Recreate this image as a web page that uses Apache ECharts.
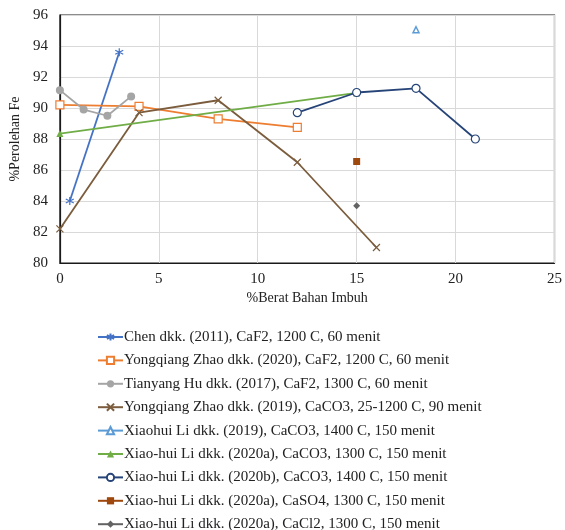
<!DOCTYPE html>
<html>
<head>
<meta charset="utf-8">
<script src="https://cdn.jsdelivr.net/npm/echarts@6/dist/echarts.min.js"></script>
<style>html,body{margin:0;padding:0;background:#fff}#c{width:565px;height:530px}</style>
</head>
<body>
<div id="c"></div>
<script>
const xTicks = [0, 5, 10, 15, 20, 25];
const yTicks = [80, 82, 84, 86, 88, 90, 92, 94, 96];
const seriesNames = [
  "Chen dkk. (2011), CaF2, 1200 C, 60 menit",
  "Yongqiang Zhao dkk. (2020), CaF2, 1200 C, 60 menit",
  "Tianyang Hu dkk. (2017), CaF2, 1300 C, 60 menit",
  "Yongqiang Zhao dkk. (2019), CaCO3, 25-1200 C, 90 menit",
  "Xiaohui Li dkk. (2019), CaCO3, 1400 C, 150 menit",
  "Xiao-hui Li dkk. (2020a), CaCO3, 1300 C, 150 menit",
  "Xiao-hui Li dkk. (2020b), CaCO3, 1400 C, 150 menit",
  "Xiao-hui Li dkk. (2020a), CaSO4, 1300 C, 150 menit",
  "Xiao-hui Li dkk. (2020a), CaCl2, 1300 C, 150 menit"
];
const chen2011 = [[0.5, 84.0], [3, 93.6]];
const zhao2020 = [[0, 90.2], [4, 90.1], [8, 89.3], [12, 88.75]];
const hu2017 = [[0, 91.15], [1.2, 89.9], [2.4, 89.5], [3.6, 90.75]];
const zhao2019 = [[0, 82.2], [4, 89.7], [8, 90.5], [12, 86.5], [16, 81.0]];
const li2019 = [[18, 95.05]];
const li2020aCaCO3 = [[0, 88.35], [15, 90.97]];
const li2020b = [[12, 89.7], [15, 91.0], [18, 91.27], [21, 88.0]];
const li2020aCaSO4 = [[15, 86.55]];
const li2020aCaCl2 = [[15, 83.7]];

const dataSets = [chen2011, zhao2020, hu2017, zhao2019, li2019, li2020aCaCO3, li2020b, li2020aCaSO4, li2020aCaCl2];
const colors = ['#4472C4', '#ED7D31', '#A5A5A5', '#7B5C3C', '#5B9BD5', '#70AD47', '#264478', '#9E480E', '#636363'];
const styles = [
  {symbol: 'path://M0,-5L0,5M-4.3,-2.5L4.3,2.5M-4.3,2.5L4.3,-2.5', size: 8, fill: 'none', bw: 1.2},
  {symbol: 'rect', size: 8, fill: '#fff', bw: 1.2},
  {symbol: 'circle', size: 8, fill: null, bw: 0},
  {symbol: 'path://M-4,-4L4,4M-4,4L4,-4', size: 7, fill: 'none', bw: 1.2},
  {symbol: 'triangle', size: 6, fill: '#fff', bw: 1.5},
  {symbol: 'triangle', size: 7, fill: null, bw: 0},
  {symbol: 'circle', size: 8, fill: '#fff', bw: 1.2},
  {symbol: 'rect', size: 7, fill: null, bw: 0},
  {symbol: 'diamond', size: 7, fill: null, bw: 0}
];
const font = '"Liberation Serif", "Times New Roman", serif';

const series = dataSets.map((d, i) => ({
  name: seriesNames[i],
  type: 'line',
  data: d,
  symbol: styles[i].symbol,
  symbolSize: styles[i].size,
  showSymbol: true,
  lineStyle: {color: colors[i], width: 1.8},
  itemStyle: {
    color: styles[i].fill === null ? colors[i] : (styles[i].fill === 'none' ? 'rgba(0,0,0,0)' : styles[i].fill),
    borderColor: colors[i],
    borderWidth: styles[i].bw
  },
  emphasis: {disabled: true},
  z: 3 + i
}));

const chart = echarts.init(document.getElementById('c'), null, {renderer: 'canvas'});
chart.setOption({
  animation: false,
  backgroundColor: '#fff',
  color: colors,
  grid: {left: 55, right: 8, top: 15, bottom: 267, show: true, borderColor: '#1a1a1a', borderWidth: 1.2, backgroundColor: 'transparent'},
  xAxis: {
    type: 'value', min: xTicks[0], max: xTicks[xTicks.length - 1], interval: 5,
    name: '%Berat Bahan Imbuh', nameLocation: 'middle', nameGap: 28,
    nameTextStyle: {fontFamily: font, fontSize: 14, color: '#222'},
    axisLine: {show: true, lineStyle: {color: '#1a1a1a', width: 1.2}},
    axisTick: {show: false},
    axisLabel: {fontFamily: font, fontSize: 15, color: '#222', margin: 9},
    splitLine: {show: true, lineStyle: {color: '#d9d9d9', width: 1}}
  },
  yAxis: {
    type: 'value', min: yTicks[0], max: yTicks[yTicks.length - 1], interval: 2,
    name: '%Perolehan Fe', nameLocation: 'middle', nameGap: 35, nameRotate: 90,
    nameTextStyle: {fontFamily: font, fontSize: 14, color: '#222'},
    axisLine: {show: true, lineStyle: {color: '#1a1a1a', width: 1.2}},
    axisTick: {show: false},
    axisLabel: {fontFamily: font, fontSize: 15, color: '#222', margin: 12},
    splitLine: {show: true, lineStyle: {color: '#d9d9d9', width: 1}}
  },
  legend: {
    orient: 'vertical', left: 97, top: 329.5, padding: 0, height: 230, width: 460,
    itemWidth: 25, itemHeight: 9, itemGap: 8.4,
    textStyle: {fontFamily: font, fontSize: 15, color: '#222', lineHeight: 14, padding: [0,0,0,-4]},
    data: seriesNames
  },
  series: series
});
</script>
</body>
</html>
